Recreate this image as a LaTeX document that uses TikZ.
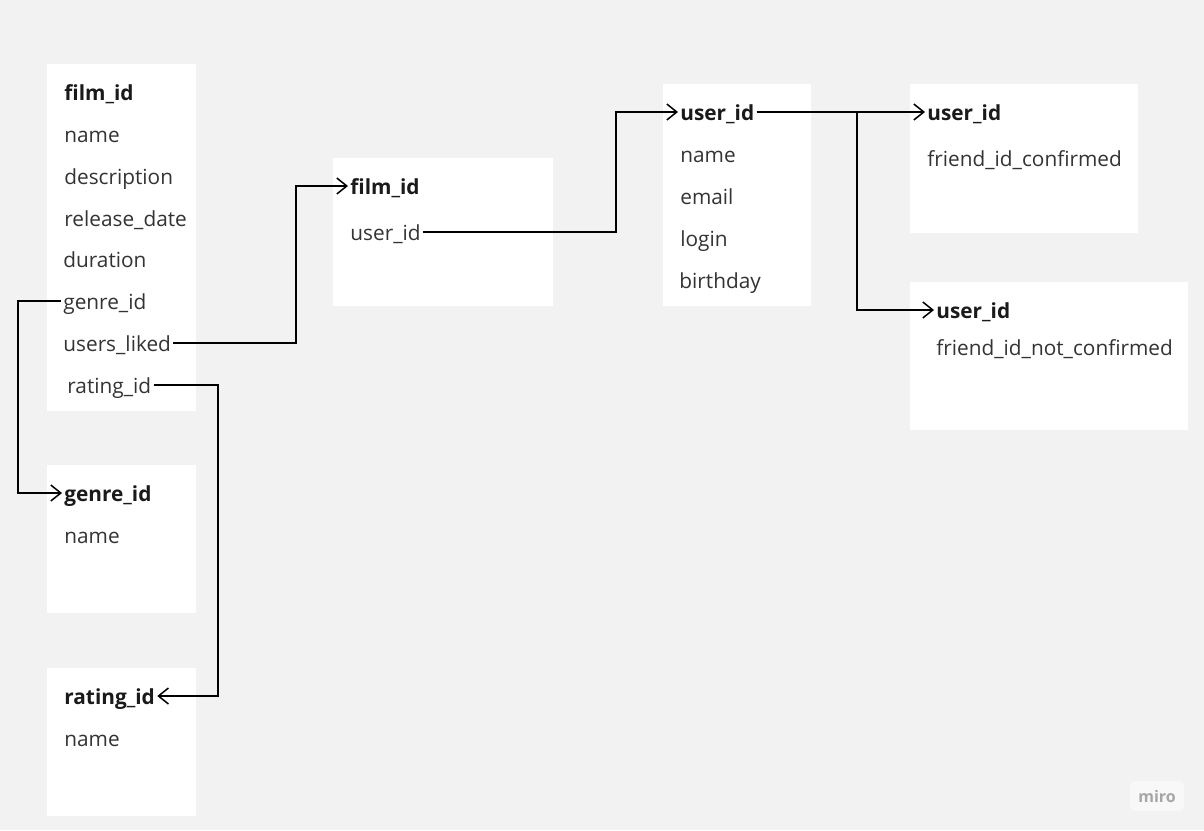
\documentclass[tikz,border=0pt]{standalone}
\usepackage{fontspec}
\setmainfont{Open Sans}
\usetikzlibrary{arrows.meta}
\definecolor{canvas}{HTML}{F2F2F2}
\definecolor{ink}{HTML}{333333}
\definecolor{inkdark}{HTML}{1A1A1A}

\begin{document}
\begin{tikzpicture}[x=0.5pt,y=-0.5pt,
    table/.style={%
        fill=white, draw=none, anchor=north west, inner sep=0pt},
    field/.style={%
        anchor=west, inner sep=1pt, text=ink,
        font=\fontsize{10.4}{12}\selectfont,
        text height=2ex, text depth=0.4ex},
    key/.style={%
        field, text=inkdark,
        font=\fontsize{10.4}{12}\selectfont\bfseries},
    link/.style={%
        draw=black, line width=0.75pt,
        -{Straight Barb[length=5pt,width=8pt,line width=0.75pt]}},
]
    %background
    \fill[canvas] (0,0) rectangle (1204,830);
    \useasboundingbox (0,0) rectangle (1204,830);

    %tables
    \node[table, minimum width=74.5pt, minimum height=173.5pt] (film) at (47,64) {};
    \node[table, minimum width=74.5pt, minimum height=74pt] (genre) at (47,465) {};
    \node[table, minimum width=74.5pt, minimum height=74pt] (rating) at (47,668) {};
    \node[table, minimum width=110pt, minimum height=74pt] (likes) at (333,158) {};
    \node[table, minimum width=74pt, minimum height=111pt] (user) at (663,84) {};
    \node[table, minimum width=114pt, minimum height=74.5pt] (conf) at (910,84) {};
    \node[table, minimum width=139pt, minimum height=74pt] (notconf) at (910,282) {};

    %film
    \node[key] (f-key) at (62,92) {film\_id};
    \node[field] (f-name) at (62,134) {name};
    \node[field] (f-desc) at (62,176) {description};
    \node[field] (f-date) at (62,218) {release\_date};
    \node[field] (f-dur) at (61,259) {duration};
    \node[field] (f-genre) at (61,301) {genre\_id};
    \node[field] (f-liked) at (61,343) {users\_liked};
    \node[field] (f-rating) at (65,385) {rating\_id};

    %genre
    \node[key] (g-key) at (62,493) {genre\_id};
    \node[field] (g-name) at (62,535) {name};

    %rating
    \node[key] (r-key) at (62,696) {rating\_id};
    \node[field] (r-name) at (62,738) {name};

    %likes
    \node[key] (l-film) at (348,186) {film\_id};
    \node[field] (l-user) at (348,232) {user\_id};

    %user
    \node[key] (u-key) at (678,112) {user\_id};
    \node[field] (u-name) at (678,154) {name};
    \node[field] (u-email) at (678,196) {email};
    \node[field] (u-login) at (678,238) {login};
    \node[field] (u-bday) at (677,280) {birthday};

    %friends
    \node[key] (c-key) at (925,112) {user\_id};
    \node[field] (c-friend) at (925,158) {friend\_id\_confirmed};
    \node[key] (n-key) at (934,310) {user\_id};
    \node[field] (n-friend) at (934,347) {friend\_id\_not\_confirmed};

    %bends
    \coordinate (b-genre) at (18,0);
    \coordinate (b-liked) at (296,0);
    \coordinate (b-rating) at (218,0);
    \coordinate (b-user) at (616,0);
    \coordinate (b-friend) at (857,0);

    %links
    \draw[link] (f-genre.west) -- (f-genre.west -| b-genre) |- (g-key.west);
    \draw[link] (f-liked.east) -- (f-liked.east -| b-liked) |- (l-film.west);
    \draw[link] (f-rating.east) -- (f-rating.east -| b-rating) |- (r-key.east);
    \draw[link] (l-user.east) -- (l-user.east -| b-user) |- (u-key.west);
    \draw[link] (u-key.east) -- (c-key.west);
    \draw[link] (u-key.east -| b-friend) |- (n-key.west);

    %watermark
    \node[fill=white!50!canvas, rounded corners=2pt, minimum width=27pt, minimum height=15pt,
        text=black!35, font=\fontsize{8}{9}\selectfont\bfseries] (miro) at (1157,796) {miro};
\end{tikzpicture}
\end{document}
